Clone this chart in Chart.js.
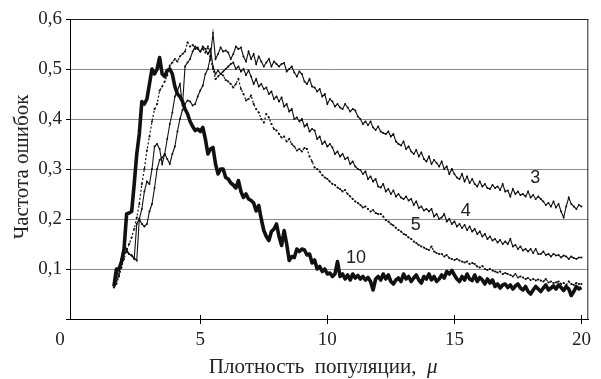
<!DOCTYPE html>
<html lang="ru">
<head>
  <meta charset="UTF-8">
  <title>Частота ошибок</title>
  <script src="https://cdn.jsdelivr.net/npm/chart.js"></script>
  <style>
    body { margin: 0; background: #fff; }
    canvas { display: block; }
  </style>
</head>
<body>
  <canvas id="chart" width="601" height="379"></canvas>

  <script>
    // плотность популяции (ось X)
    const mu = [
      1.6,1.7,1.8,1.9,2.0,2.1,2.2,2.3,2.4,2.5,
      2.6,2.7,2.8,2.9,3.0,3.1,3.2,3.3,3.4,3.5,
      3.6,3.7,3.8,3.9,4.0,4.1,4.2,4.3,4.4,4.5,
      4.6,4.7,4.8,4.9,5.0,5.1,5.2,5.3,5.4,5.5,
      5.6,5.7,5.8,5.9,6.0,6.1,6.2,6.3,6.4,6.5,
      6.6,6.7,6.8,6.9,7.0,7.1,7.2,7.3,7.4,7.5,
      7.6,7.7,7.8,7.9,8.0,8.1,8.2,8.3,8.4,8.5,
      8.6,8.7,8.8,8.9,9.0,9.1,9.2,9.3,9.4,9.5,
      9.6,9.7,9.8,9.9,10.0,10.1,10.2,10.3,10.4,10.5,
      10.6,10.7,10.8,10.9,11.0,11.1,11.2,11.3,11.4,11.5,
      11.6,11.7,11.8,11.9,12.0,12.1,12.2,12.3,12.4,12.5,
      12.6,12.7,12.8,12.9,13.0,13.1,13.2,13.3,13.4,13.5,
      13.6,13.7,13.8,13.9,14.0,14.1,14.2,14.3,14.4,14.5,
      14.6,14.7,14.8,14.9,15.0,15.1,15.2,15.3,15.4,15.5,
      15.6,15.7,15.8,15.9,16.0,16.1,16.2,16.3,16.4,16.5,
      16.6,16.7,16.8,16.9,17.0,17.1,17.2,17.3,17.4,17.5,
      17.6,17.7,17.8,17.9,18.0,18.1,18.2,18.3,18.4,18.5,
      18.6,18.7,18.8,18.9,19.0,19.1,19.2,19.3,19.4,19.5,
      19.6,19.7,19.8,19.9,20.0
    ];

    const err3 = [
      0.07,0.085,0.10,0.12,0.13,0.135,0.13,0.127,0.122,0.117,
      0.20,0.19,0.185,0.19,0.215,0.23,0.262,0.30,0.318,0.323,
      0.33,0.32,0.31,0.33,0.345,0.375,0.40,0.418,0.43,0.437,
      0.435,0.427,0.43,0.445,0.457,0.467,0.49,0.50,0.525,0.572,
      0.52,0.53,0.543,0.535,0.537,0.533,0.52,0.53,0.545,0.54,
      0.543,0.525,0.515,0.535,0.52,0.53,0.51,0.525,0.515,0.505,
      0.513,0.52,0.505,0.515,0.51,0.505,0.51,0.512,0.495,0.50,
      0.505,0.493,0.485,0.495,0.49,0.475,0.47,0.48,0.465,0.463,
      0.455,0.46,0.445,0.45,0.43,0.44,0.435,0.425,0.43,0.423,
      0.42,0.43,0.423,0.415,0.42,0.417,0.405,0.40,0.39,0.395,
      0.388,0.395,0.383,0.378,0.385,0.375,0.372,0.37,0.375,0.365,
      0.37,0.355,0.35,0.347,0.355,0.34,0.345,0.335,0.33,0.338,
      0.325,0.333,0.32,0.315,0.325,0.31,0.318,0.312,0.305,0.315,
      0.30,0.305,0.29,0.30,0.29,0.283,0.28,0.29,0.275,0.285,
      0.272,0.28,0.27,0.265,0.275,0.265,0.27,0.262,0.26,0.268,
      0.262,0.265,0.258,0.27,0.255,0.257,0.245,0.26,0.25,0.255,
      0.248,0.25,0.245,0.255,0.243,0.248,0.24,0.245,0.24,0.235,
      0.228,0.232,0.225,0.235,0.223,0.23,0.215,0.203,0.225,0.243,
      0.23,0.225,0.22,0.228,0.225
    ];

    const err4 = [
      0.07,0.075,0.09,0.12,0.15,0.14,0.13,0.127,0.12,0.19,
      0.20,0.22,0.255,0.275,0.27,0.30,0.345,0.35,0.34,0.31,
      0.33,0.36,0.39,0.413,0.445,0.457,0.47,0.427,0.505,0.513,
      0.52,0.535,0.545,0.54,0.535,0.545,0.54,0.53,0.54,0.505,
      0.49,0.497,0.49,0.495,0.50,0.505,0.51,0.513,0.50,0.505,
      0.495,0.50,0.488,0.497,0.485,0.47,0.48,0.465,0.47,0.46,
      0.463,0.45,0.455,0.44,0.445,0.435,0.443,0.425,0.43,0.415,
      0.42,0.40,0.403,0.395,0.40,0.385,0.39,0.375,0.38,0.377,
      0.36,0.365,0.35,0.355,0.345,0.35,0.343,0.33,0.335,0.325,
      0.33,0.32,0.323,0.31,0.315,0.305,0.30,0.298,0.29,0.295,
      0.28,0.285,0.275,0.28,0.265,0.263,0.27,0.255,0.26,0.25,
      0.257,0.245,0.25,0.243,0.24,0.245,0.237,0.24,0.228,0.235,
      0.222,0.225,0.217,0.22,0.215,0.22,0.205,0.21,0.20,0.203,
      0.21,0.195,0.20,0.19,0.195,0.185,0.19,0.182,0.188,0.178,
      0.185,0.175,0.18,0.17,0.175,0.165,0.17,0.16,0.165,0.157,
      0.16,0.153,0.158,0.15,0.155,0.15,0.16,0.145,0.148,0.14,
      0.145,0.137,0.14,0.135,0.14,0.132,0.14,0.13,0.13,0.135,
      0.128,0.13,0.125,0.13,0.127,0.128,0.123,0.127,0.125,0.12,
      0.125,0.122,0.12,0.123,0.123
    ];

    const err5 = [
      0.063,0.07,0.085,0.103,0.12,0.137,0.15,0.163,0.18,0.203,
      0.23,0.27,0.30,0.337,0.365,0.395,0.42,0.43,0.457,0.465,
      0.475,0.487,0.507,0.513,0.52,0.515,0.525,0.53,0.535,0.553,
      0.545,0.548,0.54,0.543,0.535,0.54,0.533,0.545,0.52,0.50,
      0.48,0.485,0.49,0.487,0.478,0.475,0.47,0.463,0.47,0.48,
      0.46,0.45,0.437,0.44,0.447,0.43,0.42,0.413,0.40,0.393,
      0.41,0.403,0.39,0.38,0.377,0.37,0.363,0.365,0.355,0.36,
      0.35,0.345,0.337,0.34,0.335,0.342,0.34,0.325,0.315,0.303,
      0.30,0.295,0.288,0.283,0.28,0.275,0.27,0.268,0.263,0.26,
      0.255,0.258,0.25,0.245,0.24,0.235,0.232,0.228,0.223,0.225,
      0.22,0.215,0.218,0.212,0.21,0.21,0.205,0.198,0.195,0.19,
      0.187,0.182,0.178,0.175,0.17,0.168,0.163,0.16,0.155,0.152,
      0.148,0.145,0.143,0.14,0.138,0.145,0.135,0.132,0.13,0.13,
      0.125,0.128,0.122,0.12,0.118,0.12,0.117,0.115,0.113,0.115,
      0.11,0.112,0.11,0.105,0.103,0.106,0.10,0.098,0.1,0.097,
      0.095,0.093,0.095,0.09,0.092,0.09,0.088,0.085,0.09,0.083,
      0.085,0.083,0.08,0.082,0.078,0.08,0.077,0.079,0.077,0.075,
      0.08,0.073,0.075,0.072,0.073,0.075,0.07,0.072,0.068,0.075,
      0.07,0.068,0.072,0.07,0.07
    ];

    const err10 = [
      0.065,0.10,0.10,0.115,0.14,0.21,0.212,0.215,0.27,0.33,
      0.37,0.435,0.43,0.44,0.47,0.50,0.49,0.50,0.523,0.49,
      0.485,0.497,0.50,0.49,0.465,0.45,0.445,0.435,0.42,0.41,
      0.395,0.385,0.377,0.38,0.375,0.383,0.36,0.33,0.34,0.343,
      0.31,0.29,0.30,0.30,0.283,0.28,0.272,0.268,0.262,0.277,
      0.255,0.243,0.25,0.24,0.237,0.232,0.216,0.227,0.20,0.177,
      0.165,0.157,0.175,0.18,0.19,0.165,0.147,0.177,0.15,0.117,
      0.125,0.123,0.14,0.135,0.14,0.138,0.128,0.13,0.112,0.118,
      0.10,0.105,0.095,0.1,0.09,0.092,0.085,0.09,0.115,0.085,
      0.09,0.08,0.088,0.078,0.09,0.082,0.087,0.08,0.085,0.078,
      0.083,0.075,0.058,0.08,0.085,0.078,0.09,0.08,0.088,0.075,
      0.07,0.078,0.082,0.075,0.09,0.08,0.085,0.075,0.082,0.088,
      0.078,0.072,0.085,0.08,0.09,0.078,0.085,0.075,0.08,0.088,
      0.082,0.095,0.09,0.097,0.088,0.08,0.075,0.085,0.078,0.09,
      0.08,0.077,0.088,0.075,0.083,0.078,0.07,0.08,0.072,0.078,
      0.065,0.07,0.062,0.068,0.07,0.063,0.068,0.06,0.066,0.07,
      0.062,0.058,0.065,0.055,0.05,0.058,0.065,0.06,0.055,0.062,
      0.068,0.058,0.062,0.066,0.06,0.068,0.063,0.057,0.065,0.06,
      0.047,0.055,0.065,0.06,0.063
    ];

    // подписи кривых
    const curveNames = ['3', '4', '5', '10'];
    const curveLabelX = [18.18, 15.45, 13.48, 11.13];
    const curveLabelY = [0.281, 0.215, 0.187, 0.121];

    const xTicks = [0, 5, 10, 15, 20];
    const serif = '"Liberation Serif", "Times New Roman", serif';

    function pts(ys) {
      return mu.map((m, i) => ({ x: m, y: ys[i] }));
    }

    const decor = {
      id: 'decor',
      beforeDraw(c) {
        const ctx = c.ctx;
        ctx.save();
        ctx.fillStyle = '#fff';
        ctx.fillRect(0, 0, c.width, c.height);
        ctx.restore();
      },
      afterDraw(c) {
        const ctx = c.ctx;
        const a = c.chartArea;
        const x = c.scales.x, y = c.scales.y;
        ctx.save();
        // правая рамка
        ctx.strokeStyle = '#222';
        ctx.lineWidth = 1;
        ctx.beginPath();
        ctx.moveTo(a.right - 0.5, a.top);
        ctx.lineTo(a.right - 0.5, a.bottom);
        ctx.stroke();
        // засечки на оси X
        ctx.strokeStyle = '#000';
        xTicks.forEach(v => {
          if (v === 0) return;
          const px = Math.round(x.getPixelForValue(v)) + 0.5;
          ctx.beginPath();
          ctx.moveTo(px, a.bottom - 4);
          ctx.lineTo(px, a.bottom + 5);
          ctx.stroke();
        });
        // "0" в углу
        ctx.fillStyle = '#222';
        ctx.font = '19px ' + serif;
        ctx.textAlign = 'center';
        ctx.textBaseline = 'middle';
        ctx.fillText('0', a.left - 10, 340);

        // подписи кривых
        ctx.font = '18px "Liberation Sans", Arial, sans-serif';
        curveNames.forEach((t, i) => {
          ctx.fillText(t, x.getPixelForValue(curveLabelX[i]), y.getPixelForValue(curveLabelY[i]));
        });

        // название оси X
        ctx.textBaseline = 'alphabetic';
        ctx.textAlign = 'left';
        const t1 = 'Плотность  популяции,  ';
        ctx.font = '21px ' + serif;
        const w1 = ctx.measureText(t1).width;
        ctx.font = 'italic 21px ' + serif;
        const w2 = ctx.measureText('μ').width;
        const cx = (a.left + a.right) / 2 - 6;
        const sx = cx - (w1 + w2) / 2;
        ctx.font = '21px ' + serif;
        ctx.fillText(t1, sx, 373);
        ctx.font = 'italic 21px ' + serif;
        ctx.fillText('μ', sx + w1, 373);

        // название оси Y
        ctx.translate(28, 167);
        ctx.rotate(-Math.PI / 2);
        ctx.textAlign = 'center';
        ctx.font = '21px ' + serif;
        ctx.fillText('Частота ошибок', 0, 0);
        ctx.restore();
      }
    };

    new Chart(document.getElementById('chart'), {
      type: 'line',
      data: {
        datasets: [
          {
            label: '3', data: pts(err3),
            borderColor: '#111', borderWidth: 1.1,
            pointRadius: 1, pointBackgroundColor: '#111', pointBorderWidth: 0
          },
          {
            label: '4', data: pts(err4),
            borderColor: '#111', borderWidth: 1.1,
            pointRadius: 1, pointBackgroundColor: '#111', pointBorderWidth: 0
          },
          {
            label: '5', data: pts(err5),
            borderColor: '#111', borderWidth: 1.2, borderDash: [2, 2],
            pointRadius: 1.1, pointBackgroundColor: '#111', pointBorderWidth: 0
          },
          {
            label: '10', data: pts(err10),
            borderColor: '#111', borderWidth: 3.6,
            pointRadius: 0, borderJoinStyle: 'round'
          }
        ]
      },
      options: {
        responsive: false,
        animation: false,
        layout: { padding: { top: 19, right: 2, left: 0, bottom: 0 } },
        plugins: { legend: { display: false }, tooltip: { enabled: false } },
        scales: {
          x: {
            type: 'linear',
            min: -0.127,
            max: 20.27,
            afterFit(s) { s.height = 60; },
            afterBuildTicks(s) { s.ticks = xTicks.map(v => ({ value: v })); },
            border: { color: '#000', width: 1 },
            grid: { display: false, drawTicks: false },
            ticks: {
              padding: 10,
              color: '#222',
              maxRotation: 0,
              font: { family: serif, size: 19 },
              callback: v => (v === 0 ? '' : String(v))
            }
          },
          y: {
            min: 0,
            max: 0.6,
            afterFit(s) { s.width = 70; },
            border: { color: '#000', width: 1 },
            grid: {
              drawTicks: true,
              tickLength: 4,
              tickColor: '#000',
              lineWidth: 1,
              color: ctx => {
                const v = ctx.tick ? Math.round(ctx.tick.value * 10) : 0;
                if (v === 0) return 'rgba(0,0,0,0)';
                if (v === 6) return '#222';
                return '#8a8a8a';
              }
            },
            ticks: {
              stepSize: 0.1,
              padding: 4,
              color: '#222',
              font: { family: serif, size: 19 },
              callback: v => (Math.abs(v) < 1e-9 ? '' : v.toFixed(1).replace('.', ','))
            }
          }
        }
      },
      plugins: [decor]
    });
  </script>
</body>
</html>
